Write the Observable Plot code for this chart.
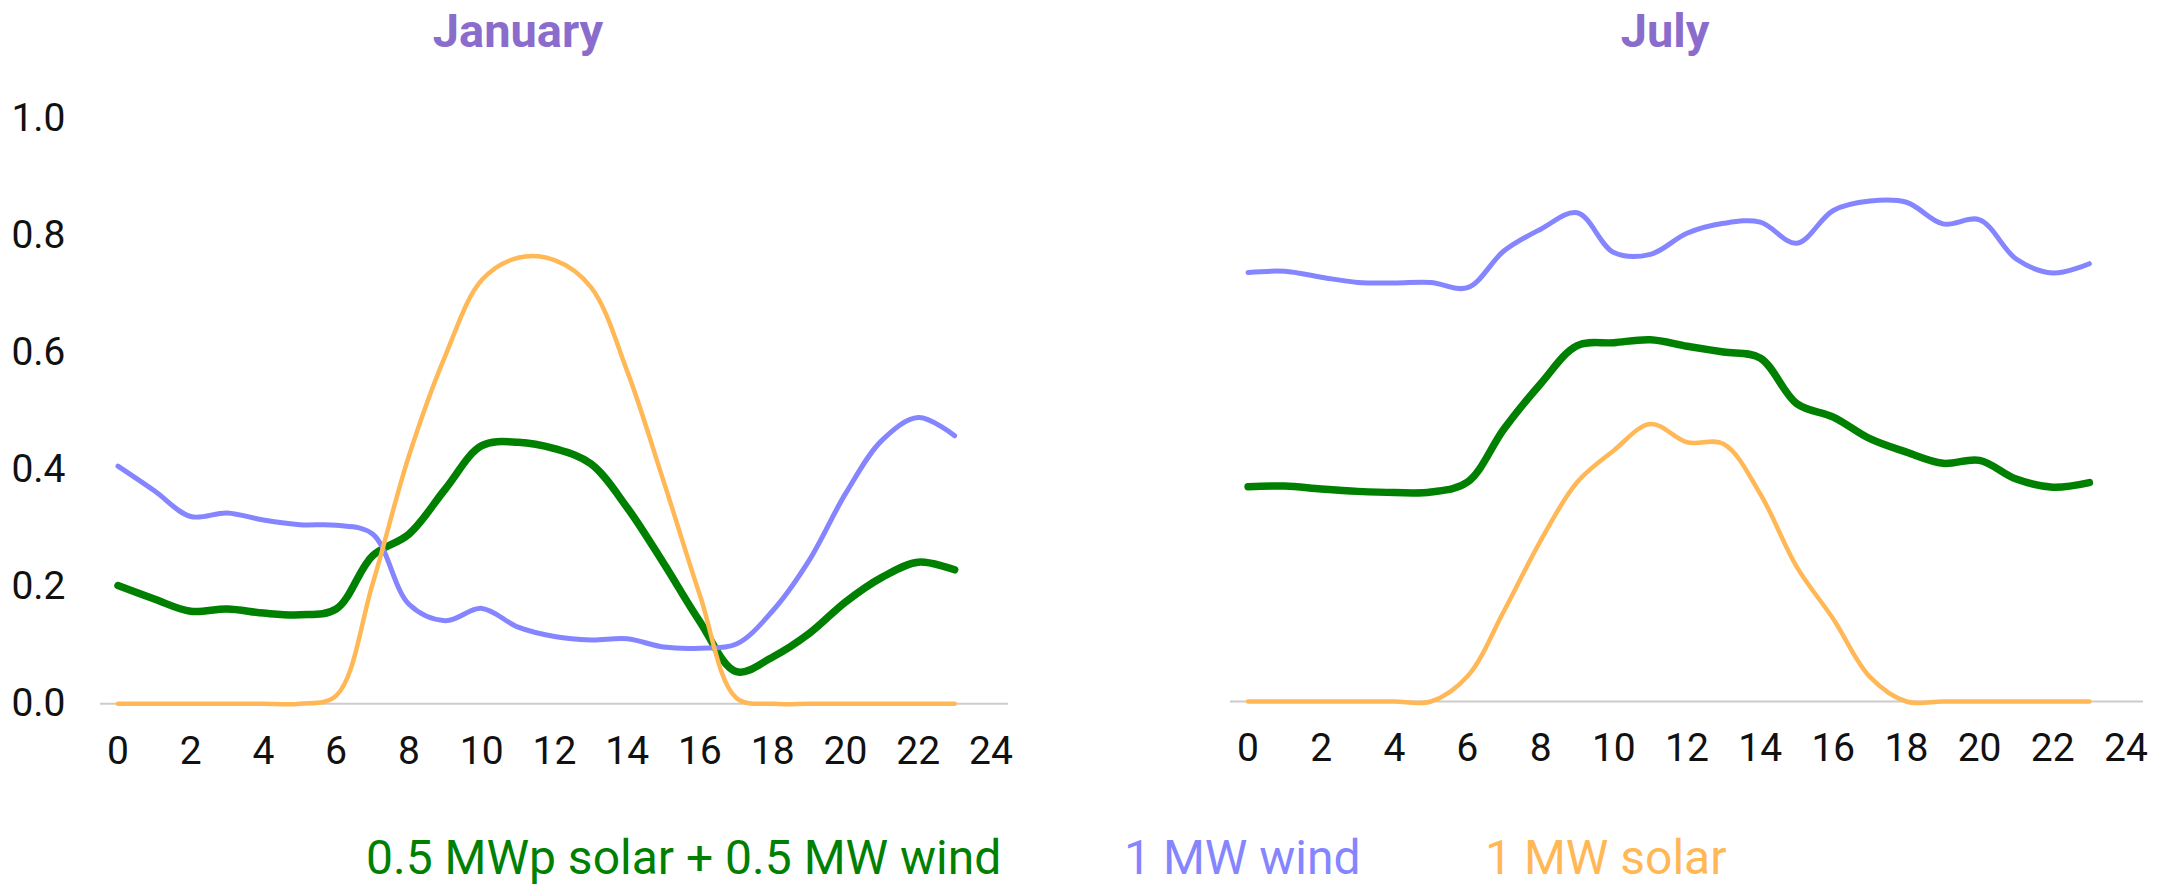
<!DOCTYPE html>
<html>
<head>
<meta charset="utf-8">
<script src="https://cdn.jsdelivr.net/npm/d3@7"></script>
<script src="https://cdn.jsdelivr.net/npm/@observablehq/plot@0.6"></script>
<style>
  html, body { margin: 0; padding: 0; background: #fff; }
  #page { position: relative; width: 2164px; height: 886px; overflow: hidden; font-family: Roboto, "Noto Sans", sans-serif; }
  .title { position: absolute; top: 1px; height: 60px; line-height: 60px; font-size: 47px; font-weight: bold; color: #8a6ccc; transform: translateX(-50%); white-space: nowrap; }
  .chart { position: absolute; top: 60px; }
  .legend { position: absolute; top: 828px; height: 60px; line-height: 60px; font-size: 48px; white-space: nowrap; }
</style>
</head>
<body>
<div id="page"></div>
<script>
// ---- data ----
const hours = [0,1,2,3,4,5,6,7,8,9,10,11,12,13,14,15,16,17,18,19,20,21,22,23];
const xTicks = [0,2,4,6,8,10,12,14,16,18,20,22,24];
const yTicks = [0,0.2,0.4,0.6,0.8,1.0];
const monthNames = ["January", "July"];
const seriesNames = ["0.5 MWp solar + 0.5 MW wind", "1 MW wind", "1 MW solar"];
const seriesColors = ["#008000", "#8585ff", "#ffb855"];

const janMix   = [0.202,0.179,0.158,0.162,0.155,0.152,0.162,0.253,0.290,0.367,0.441,0.447,0.436,0.410,0.335,0.240,0.140,0.055,0.080,0.120,0.174,0.216,0.242,0.229];
const janWind  = [0.406,0.364,0.320,0.326,0.314,0.306,0.305,0.290,0.170,0.142,0.163,0.131,0.115,0.109,0.111,0.097,0.095,0.102,0.159,0.245,0.359,0.450,0.489,0.458];
const janSolar = [0,0,0,0,0,0,0.014,0.205,0.424,0.595,0.724,0.762,0.758,0.712,0.568,0.380,0.185,0.010,0,0,0,0,0,0];

const julMix   = [0.367,0.368,0.363,0.359,0.357,0.358,0.375,0.466,0.543,0.608,0.613,0.618,0.607,0.597,0.587,0.509,0.486,0.449,0.426,0.407,0.412,0.380,0.366,0.374];
const julWind  = [0.733,0.735,0.725,0.716,0.715,0.716,0.707,0.770,0.807,0.835,0.767,0.764,0.800,0.817,0.819,0.783,0.839,0.855,0.853,0.816,0.823,0.756,0.732,0.748];
const julSolar = [0,0,0,0,0,0,0.043,0.155,0.275,0.375,0.429,0.474,0.443,0.440,0.355,0.230,0.141,0.042,0,0,0,0,0,0];

const seriesWidths = [7.5, 5, 4.5];

function toRows(values) { return hours.map((h, i) => ({hour: h, value: values[i]})); }

function makeChart(series, o) {
  return Plot.plot({
    width: o.width,
    height: 720,
    marginLeft: o.ml, marginRight: o.mr, marginTop: o.mt, marginBottom: o.mb,
    style: { fontFamily: "Roboto, sans-serif", fontSize: "39px", color: "#111", background: "transparent", overflow: "visible" },
    x: { domain: [-0.48, 24.48], ticks: xTicks, tickSize: 0, tickPadding: 32, label: null, tickFormat: d => String(d) },
    y: { domain: [0, 1], ticks: yTicks, tickSize: 0, tickPadding: 35, label: null, tickFormat: d3.format(".1f"), axis: o.yAxis ? "left" : null },
    marks: [
      Plot.ruleY([0], { stroke: "#cccccc", strokeWidth: 2 }),
      ...series.map((vals, i) => Plot.line(toRows(vals), {
        x: "hour", y: "value", curve: "catmull-rom",
        stroke: seriesColors[i], strokeWidth: seriesWidths[i],
        strokeLinecap: "round", strokeLinejoin: "round"
      }))
    ]
  });
}

const page = document.getElementById("page");

// titles
const titleCenters = [518, 1665];
monthNames.forEach((m, i) => {
  const t = document.createElement("div");
  t.className = "title";
  t.style.left = titleCenters[i] + "px";
  t.textContent = m;
  page.appendChild(t);
});

// charts
const left = makeChart([janMix, janWind, janSolar], { width: 1082, ml: 100, mr: 74, mt: 58, mb: 76.7, yAxis: true });
left.classList.add("chart");
left.style.left = "0px";
page.appendChild(left);

const right = makeChart([julMix, julWind, julSolar], { width: 1082, ml: 148, mr: 21, mt: 55.7, mb: 79, yAxis: false });
right.classList.add("chart");
right.style.left = "1082px";
page.appendChild(right);

// legend
const legendLefts = [366, 1124, 1485];
seriesNames.forEach((name, i) => {
  const s = document.createElement("div");
  s.className = "legend";
  s.style.left = legendLefts[i] + "px";
  s.style.color = seriesColors[i];
  s.textContent = name;
  page.appendChild(s);
});
</script>
</body>
</html>
